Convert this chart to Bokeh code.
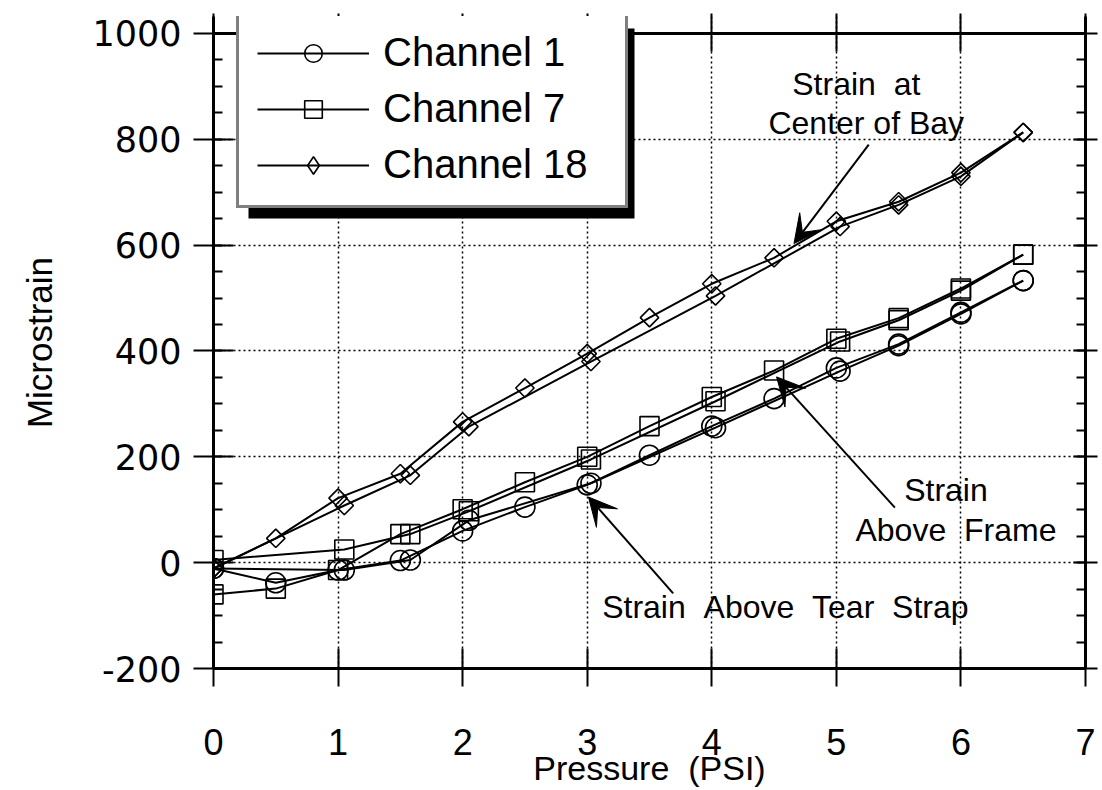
import numpy as np
from bokeh.plotting import figure
from bokeh.models import (Range1d, FixedTicker, LinearAxis, Legend, LegendItem,
                          Label, Arrow, VeeHead, Span, BoxAnnotation)
from bokeh.embed import file_html
from bokeh.resources import INLINE

# ---------------- data ----------------
X_TICKS = [0, 1, 2, 3, 4, 5, 6, 7]
Y_TICKS = [-200, 0, 200, 400, 600, 800, 1000]
Y_MINOR = list(range(-200, 1001, 50))
Y_LABELS = {-200: "-200"}

LOAD_X = [0, 0.5, 1.0, 1.5, 2.0, 2.5, 3.0, 3.5, 4.0, 4.5, 5.0, 5.5, 6.0, 6.5]
UNLOAD_X = [0, 1.05, 1.58, 2.05, 3.03, 4.03, 5.03, 5.5, 6.0, 6.5]

CH1_LOAD = [-11, -38, -14, 4, 60, 105, 147, 203, 258, 310, 368, 413, 473, 533]
CH1_UNLOAD = [-11, -14, 5, 80, 150, 255, 362, 410, 470, 533]

CH7_LOAD = [-60, -49, -14, 54, 101, 152, 200, 258, 313, 363, 423, 462, 518, 582]
CH7_UNLOAD = [5, 25, 54, 97, 195, 305, 418, 458, 514, 582]

CH18_LOAD = [-11, 46, 122, 168, 266, 330, 395, 463, 527, 576, 645, 682, 737, 813]
CH18_UNLOAD = [-11, 108, 165, 257, 380, 504, 635, 676, 730, 813]

SERIES = ["Channel 1", "Channel 7", "Channel 18"]

# annotation texts and anchor points (data units)
NB = "\u00a0"
NOTE_TEXT = ["Strain" + NB * 2 + "at", "Center of Bay", "Strain", "Above" + NB * 2 + "Frame",
             "Strain" + NB * 2 + "Above" + NB * 2 + "Tear" + NB * 2 + "Strap"]
NOTE_X = [5.16, 5.24, 5.88, 5.96, 3.12]
NOTE_Y = [905, 830, 138, 61, -83]
NOTE_ALIGN = ["center", "center", "center", "center", "left"]

ARROW_START_X = [5.26, 5.47, 3.69]
ARROW_START_Y = [790, 104, -58]
ARROW_END_X = [4.66, 4.52, 3.01]
ARROW_END_Y = [603, 351, 124]

FONT = "Liberation Sans"

# y range: a little head-room above 1000 so the legend box can rise above the top frame line
p = figure(width=1100, height=790, output_backend="svg", toolbar_location=None,
           x_range=Range1d(0, 7), y_range=Range1d(-200, 1032),
           min_border_left=213, min_border_right=15, min_border_top=16,
           min_border_bottom=122)
p.outline_line_color = None
p.background_fill_color = "white"

# ---------------- axes ----------------
xa = p.xaxis[0]
xa.ticker = FixedTicker(ticks=X_TICKS, minor_ticks=[])
ya = p.yaxis[0]
ya.ticker = FixedTicker(ticks=Y_TICKS, minor_ticks=Y_MINOR)
ya.major_label_overrides = Y_LABELS

top = LinearAxis(ticker=FixedTicker(ticks=X_TICKS, minor_ticks=[]))
right = LinearAxis(ticker=FixedTicker(ticks=Y_TICKS, minor_ticks=Y_MINOR))
p.add_layout(top, "above")
p.add_layout(right, "right")

for ax in [xa, ya, top, right]:
    ax.axis_line_width = 3
    ax.axis_line_color = "black"
    ax.major_tick_line_width = 2
    ax.major_tick_line_color = "black"
    ax.minor_tick_line_width = 2
    ax.minor_tick_line_color = "black"

xa.major_tick_in = 20
xa.major_tick_out = 18
xa.minor_tick_line_color = None
xa.major_label_text_font = FONT
xa.major_label_text_font_size = "36px"
xa.major_label_text_color = "black"
xa.major_label_standoff = 42
xa.axis_label = "Pressure" + NB * 2 + "(PSI)"
xa.axis_label_text_font = FONT
xa.axis_label_text_font_size = "34px"
xa.axis_label_text_font_style = "normal"
xa.axis_label_text_color = "black"
xa.axis_label_standoff = -9

ya.major_tick_in = 20
ya.major_tick_out = 20
ya.minor_tick_in = 9
ya.minor_tick_out = 0
ya.major_label_text_font = "DejaVu Sans"
ya.major_label_text_font_size = "35px"
ya.major_label_text_color = "black"
ya.major_label_standoff = 12
ya.axis_label = "Microstrain"
ya.axis_label_text_font = FONT
ya.axis_label_text_font_size = "35px"
ya.axis_label_text_font_style = "normal"
ya.axis_label_text_color = "black"
ya.axis_label_standoff = 30

# top axis: line drawn by a span at y=1000, ticks reach down through it
top.axis_line_color = None
top.major_tick_in = 35
top.major_tick_out = 3
top.minor_tick_line_color = None
top.major_label_text_font_size = "1px"
top.major_label_text_color = None
top.major_label_standoff = 0

right.major_tick_in = 12
right.major_tick_out = 12
right.minor_tick_in = 9
right.minor_tick_out = 0
right.major_label_text_font_size = "1px"
right.major_label_text_color = None
right.major_label_standoff = 0

# ---------------- grid ----------------
p.xgrid.ticker = FixedTicker(ticks=X_TICKS)
p.ygrid.ticker = FixedTicker(ticks=Y_TICKS)
for g in [p.xgrid, p.ygrid]:
    g.grid_line_color = "black"
    g.grid_line_width = 1.5
    g.grid_line_dash = "2 3"

# ---------------- series ----------------
markers = [dict(marker="circle", size=20, angle=0.0),
           dict(marker="square", size=19, angle=0.0),
           dict(marker="square", size=13, angle=np.pi / 4)]
loads = [CH1_LOAD, CH7_LOAD, CH18_LOAD]
unloads = [CH1_UNLOAD, CH7_UNLOAD, CH18_UNLOAD]

items = []
for name, mk, ld, ul in zip(SERIES, markers, loads, unloads):
    l1 = p.line(LOAD_X, ld, line_color="black", line_width=2)
    l2 = p.line(UNLOAD_X, ul, line_color="black", line_width=2)
    s1 = p.scatter(LOAD_X, ld, marker=mk["marker"], size=mk["size"], angle=mk["angle"],
                   fill_alpha=0, line_color="black", line_width=1.6)
    s2 = p.scatter(UNLOAD_X, ul, marker=mk["marker"], size=mk["size"], angle=mk["angle"],
                   fill_alpha=0, line_color="black", line_width=1.6)
    if mk["angle"] != 0.0:
        # legend swatch for the rotated-square (diamond) series
        s1 = p.scatter(LOAD_X, ld, marker="diamond", size=22, fill_alpha=0,
                       line_color="black", line_width=1.6, visible=False)
    items.append((name, [l1, s1]))

# ---------------- annotations ----------------
p.add_layout(Span(location=Y_TICKS[-1], dimension="width", line_color="black", line_width=3))

for t, x, y, al in zip(NOTE_TEXT, NOTE_X, NOTE_Y, NOTE_ALIGN):
    p.add_layout(Label(x=x, y=y, text=t, text_align=al, text_baseline="middle",
                       text_font=FONT, text_font_size="32px", text_color="black"))

for xs, ys, xe, ye in zip(ARROW_START_X, ARROW_START_Y, ARROW_END_X, ARROW_END_Y):
    p.add_layout(Arrow(end=VeeHead(size=28, fill_color="black", line_color="black", line_width=1),
                       x_start=xs, y_start=ys, x_end=xe, y_end=ye,
                       line_color="black", line_width=2))

# ---------------- legend (with drop shadow) ----------------
LEG_X, LEG_Y, LEG_W, LEG_H = 23, 460, 386, 190   # screen px from frame bottom-left
SHADOW_DX, SHADOW_DY = 12, 10

p.add_layout(BoxAnnotation(left=LEG_X + SHADOW_DX, right=LEG_X + LEG_W + SHADOW_DX,
                           bottom=LEG_Y - SHADOW_DY, top=LEG_Y + LEG_H - SHADOW_DY,
                           left_units="screen", right_units="screen",
                           top_units="screen", bottom_units="screen",
                           fill_color="black", fill_alpha=1.0, line_color=None))

legend = Legend(items=[LegendItem(label=n, renderers=r) for n, r in items],
                location=(LEG_X, LEG_Y), orientation="vertical",
                padding=18, spacing=11, margin=0,
                glyph_width=112, glyph_height=44, label_height=44, label_width=224,
                label_standoff=14,
                label_text_font=FONT, label_text_font_size="40px",
                label_text_color="black", label_text_baseline="middle",
                border_line_color="black", border_line_width=3,
                background_fill_color="white", background_fill_alpha=1.0)
p.add_layout(legend, "center")

open("out.html", "w").write(file_html(p, INLINE))
